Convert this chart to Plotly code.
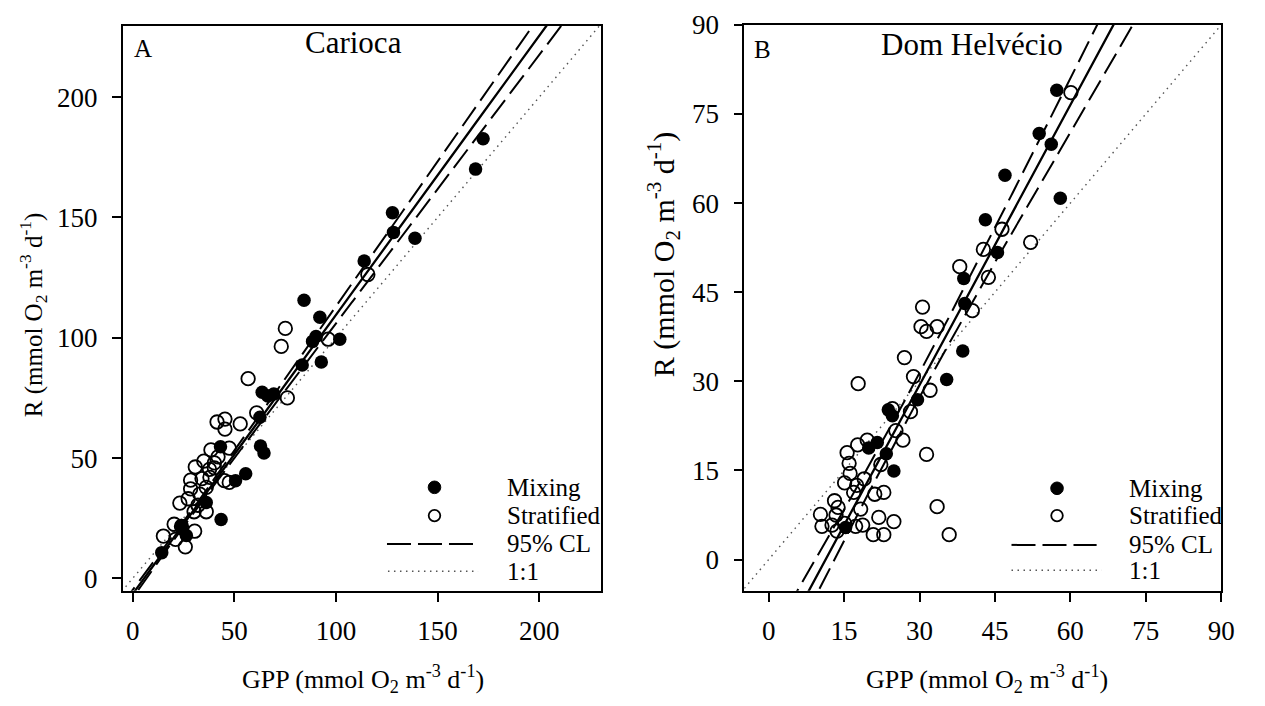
import numpy as np
import plotly.graph_objects as go

# ---------------- data ----------------
# Panel A - Carioca
A_mix_gpp = [172.4, 168.7, 127.8, 128.3, 138.9, 113.9, 84.3, 92.1, 90.2, 88.5, 101.9, 83.4, 92.8,
             63.7, 66.5, 69.4, 62.6, 62.9, 64.6, 43.2, 55.6, 50.6, 43.5, 36.2, 26.4, 14.3, 24.0]
A_mix_r = [182.7, 170.1, 152.0, 143.8, 141.4, 131.9, 115.6, 108.5, 100.5, 98.5, 99.4, 88.7, 89.9,
           77.4, 75.8, 76.6, 67.0, 55.0, 52.1, 54.7, 43.5, 40.6, 24.5, 31.5, 17.8, 10.7, 22.0]
A_str_gpp = [115.7, 75.1, 73.1, 96.2, 56.8, 76.1, 61.0, 41.5, 45.4, 45.4, 52.9, 38.5, 47.5, 30.8,
             35.0, 40.2, 40.2, 37.8, 28.5, 34.1, 45.1, 47.5, 28.5, 36.2, 23.2, 27.3, 32.1, 36.2,
             30.2, 20.4, 24.0, 30.5, 15.1, 21.1, 25.9, 33.0, 42.0, 38.0]
A_str_r = [126.3, 103.9, 96.4, 99.4, 83.0, 75.0, 68.8, 65.0, 66.2, 62.0, 64.2, 53.4, 54.1, 46.3,
           48.7, 48.0, 45.9, 45.3, 40.8, 41.5, 40.6, 39.9, 37.2, 37.8, 31.3, 33.1, 30.4, 27.7,
           27.7, 22.5, 21.6, 19.6, 17.6, 16.2, 13.1, 35.0, 50.5, 42.0]

# Panel B - Dom Helvecio
B_mix_gpp = [57.3, 53.8, 56.2, 47.0, 58.0, 43.1, 45.5, 38.8, 39.0, 38.6, 35.4, 29.6, 23.8, 24.6,
             21.6, 19.9, 23.4, 24.9, 15.3]
B_mix_r = [79.0, 71.7, 69.9, 64.7, 60.8, 57.2, 51.7, 47.3, 43.1, 35.1, 30.3, 26.9, 25.2, 24.2,
           19.7, 18.8, 17.8, 14.9, 5.4]
B_str_gpp = [60.1, 46.4, 52.1, 42.7, 38.0, 43.7, 40.5, 30.6, 30.3, 31.4, 33.5, 27.0, 28.8, 32.1,
             17.8, 28.2, 24.6, 25.3, 26.7, 19.6, 17.7, 15.6, 16.0, 31.4, 22.3, 19.0, 15.1, 16.9,
             21.1, 22.9, 13.1, 13.8, 18.3, 10.3, 13.4, 21.9, 33.5, 24.9, 10.6, 12.6, 15.1, 17.3,
             18.7, 13.6, 20.8, 22.9, 35.9, 17.5, 16.2]
B_str_r = [78.6, 55.6, 53.4, 52.2, 49.3, 47.5, 41.9, 42.5, 39.2, 38.4, 39.2, 34.0, 30.8, 28.5,
           29.6, 24.9, 25.4, 21.7, 20.1, 20.1, 19.3, 18.0, 16.2, 17.7, 16.0, 13.6, 12.9, 11.3,
           11.0, 11.3, 9.9, 8.8, 8.5, 7.6, 7.5, 7.1, 8.9, 6.4, 5.6, 5.8, 6.1, 5.6,
           5.8, 4.8, 4.2, 4.2, 4.2, 12.5, 14.5]

# regression fits and 95% confidence-band parameters
A_fit = dict(slope=1.16, intercept=-6.5, cl_a=1.0, cl_b=0.0451, cl_xm=25.0)
B_fit = dict(slope=1.572, intercept=-17.8, cl_a=2.0, cl_b=0.125, cl_xm=28.0)

# tick labels
A_ticks = [0, 50, 100, 150, 200]
B_ticks = [0, 15, 30, 45, 60, 75, 90]
panel_titles = ["Carioca", "Dom Helvécio"]
panel_letters = ["A", "B"]
legend_labels = ["Mixing", "Stratified", "95% CL", "1:1"]

# ---------------- figure ----------------
W, H = 1265, 706
FONT = "Liberation Serif, Times New Roman, serif"


def px(x):
    return x / W


def py(y):
    return 1 - y / H


fig = go.Figure()


def add_panel(xa, ya, mx, my, sx, sy, fit, xr):
    xs = np.linspace(xr[0] - 10, xr[1] + 10, 600)
    yfit = fit["slope"] * xs + fit["intercept"]
    hw = np.sqrt(fit["cl_a"] ** 2 + fit["cl_b"] ** 2 * (xs - fit["cl_xm"]) ** 2)
    common = dict(xaxis=xa, yaxis=ya, showlegend=False, hoverinfo="skip")
    fig.add_trace(go.Scatter(x=xs, y=xs, mode="lines",
                             line=dict(color="#555555", width=1.4, dash="1.5px,4.5px"), **common))
    for sign in (1, -1):
        fig.add_trace(go.Scatter(x=xs, y=yfit + sign * hw, mode="lines",
                                 line=dict(color="black", width=2, dash="23px,8px"), **common))
    fig.add_trace(go.Scatter(x=xs, y=yfit, mode="lines",
                             line=dict(color="black", width=2.3), **common))
    fig.add_trace(go.Scatter(x=sx, y=sy, mode="markers",
                             marker=dict(symbol="circle-open", size=13.5, color="black",
                                         line=dict(width=1.8, color="black")), **common))
    fig.add_trace(go.Scatter(x=mx, y=my, mode="markers",
                             marker=dict(symbol="circle", size=13.5, color="black",
                                         line=dict(width=0)), **common))


A_xr = [-4.9, 230.3]
A_yr = [-5.15, 229.7]
B_xr = [-4.85, 90.02]
B_yr = [-5.25, 90.02]

add_panel("x", "y", A_mix_gpp, A_mix_r, A_str_gpp, A_str_r, A_fit, A_xr)
add_panel("x2", "y2", B_mix_gpp, B_mix_r, B_str_gpp, B_str_r, B_fit, B_xr)

axis_common = dict(showgrid=False, zeroline=False, showline=True, linecolor="black", linewidth=1.5,
                   mirror=True, ticks="outside", ticklen=9, tickwidth=1.5, tickcolor="black",
                   ticklabeloverflow="allow",
                   tickfont=dict(family=FONT, size=27, color="black"))

fig.update_layout(
    width=W, height=H, autosize=False, margin=dict(l=0, r=0, t=0, b=0),
    paper_bgcolor="white", plot_bgcolor="white", showlegend=False,
    xaxis=dict(domain=[px(124), px(607)], range=A_xr, tickvals=A_ticks, anchor="y",
               ticklabelstandoff=6, **axis_common),
    yaxis=dict(domain=[py(591), py(12)], range=A_yr, tickvals=A_ticks, anchor="x",
               ticklabelstandoff=9, **axis_common),
    xaxis2=dict(domain=[px(752), px(1234)], range=B_xr, tickvals=B_ticks, anchor="y2",
                ticklabelstandoff=6, **axis_common),
    yaxis2=dict(domain=[py(591), py(11)], range=B_yr, tickvals=B_ticks, anchor="x2",
                ticklabelstandoff=9, **axis_common),
)

ann = []
shapes = []
axis_title = "GPP (mmol O<sub>2</sub> m<sup>-3</sup> d<sup>-1</sup>)"
r_title = "R (mmol O<sub>2</sub> m<sup>-3</sup> d<sup>-1</sup>)"

# panel letters and titles
for letter, lx, ly in zip(panel_letters, [144, 770], [35, 36]):
    ann.append(dict(text=letter, x=px(lx), y=py(ly), xref="paper", yref="paper", showarrow=False,
                    xanchor="center", yanchor="middle", font=dict(family=FONT, size=25, color="black")))
for title, tx, ty in zip(panel_titles, [357, 982], [29, 31]):
    ann.append(dict(text=title, x=px(tx), y=py(ty), xref="paper", yref="paper", showarrow=False,
                    xanchor="center", yanchor="middle", font=dict(family=FONT, size=31, color="black")))

# axis titles
for cx in [367, 997]:
    ann.append(dict(text=axis_title, x=px(cx), y=py(681), xref="paper", yref="paper", showarrow=False,
                    xanchor="center", yanchor="middle", font=dict(family=FONT, size=26, color="black")))
for cx, cy, fs in [(33, 308, 25), (670, 246, 30)]:
    ann.append(dict(text=r_title, x=px(cx), y=py(cy), xref="paper", yref="paper", showarrow=False,
                    textangle=-90, xanchor="center", yanchor="middle",
                    font=dict(family=FONT, size=fs, color="black")))

# legends (drawn as decoration in pixel positions)
legend_pos = [
    dict(mx=439, rows=[485, 514, 543, 571], d0=391, d1=478, o0=392, o1=483, tx=510),
    dict(mx=1068, rows=[486, 514, 544, 570], d0=1022, d1=1108, o0=1022, o1=1113, tx=1139),
]
for lp in legend_pos:
    r = lp["rows"]
    shapes.append(dict(type="circle", xref="paper", yref="paper", xsizemode="pixel", ysizemode="pixel",
                       xanchor=px(lp["mx"]), yanchor=py(r[0]), x0=-6.3, x1=6.3, y0=-6.3, y1=6.3,
                       fillcolor="black", line=dict(color="black", width=1)))
    shapes.append(dict(type="circle", xref="paper", yref="paper", xsizemode="pixel", ysizemode="pixel",
                       xanchor=px(lp["mx"]), yanchor=py(r[1]), x0=-5.8, x1=5.8, y0=-5.8, y1=5.8,
                       fillcolor="rgba(0,0,0,0)", line=dict(color="black", width=1.8)))
    shapes.append(dict(type="line", xref="paper", yref="paper", x0=px(lp["d0"]), x1=px(lp["d1"]),
                       y0=py(r[2]), y1=py(r[2]), line=dict(color="black", width=2, dash="24px,7px")))
    shapes.append(dict(type="line", xref="paper", yref="paper", x0=px(lp["o0"]), x1=px(lp["o1"]),
                       y0=py(r[3]), y1=py(r[3]), line=dict(color="#555555", width=1.4, dash="1.5px,4.5px")))
    for lab, ry in zip(legend_labels, r):
        ann.append(dict(text=lab, x=px(lp["tx"]), y=py(ry), xref="paper", yref="paper", showarrow=False,
                        xanchor="left", yanchor="middle", font=dict(family=FONT, size=25, color="black")))

fig.update_layout(annotations=ann, shapes=shapes)
fig.write_html("out.html", config={"responsive": False})
